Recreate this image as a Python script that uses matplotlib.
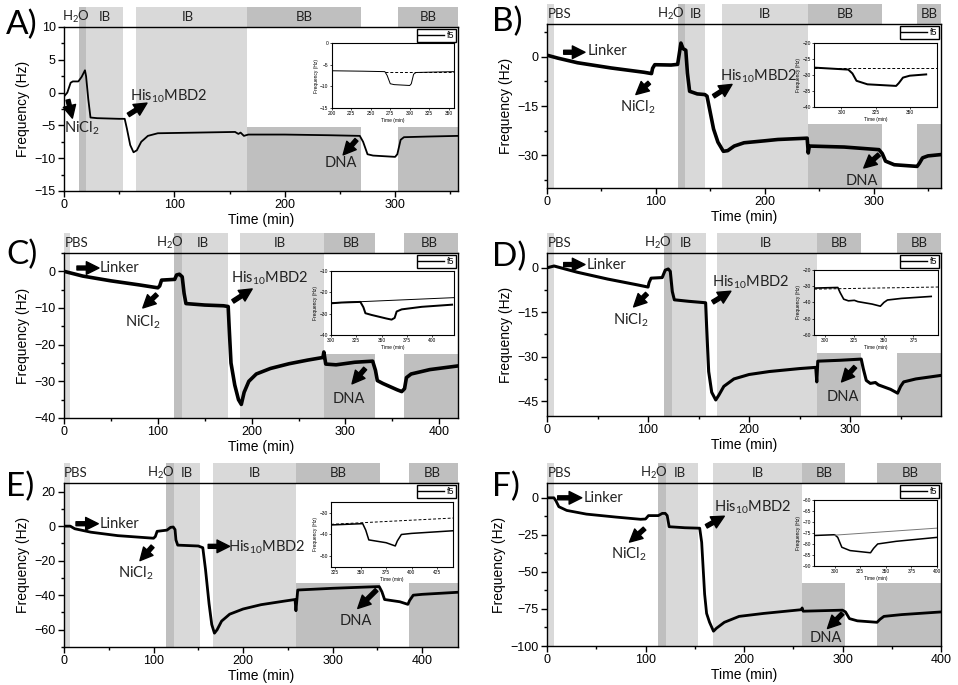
import matplotlib
matplotlib.use('Agg')
import matplotlib.pyplot as plt
from matplotlib.ticker import MultipleLocator, AutoMinorLocator
from matplotlib.patches import Rectangle
from matplotlib.lines import Line2D

plt.rcParams['font.family'] = ['Liberation Sans', 'DejaVu Sans']
plt.rcParams['mathtext.fontset'] = 'custom'
plt.rcParams['mathtext.rm'] = 'Lato'
plt.rcParams['mathtext.default'] = 'regular'

# ---- data: (time min, frequency Hz) ----
a_curve = [(0, -0.6), (3, 0), (6, 1.5), (8, 1.7), (13, 1.7), (16, 2.4), (19, 3.4), (20, 2.5),
           (22, -1), (24, -3.8), (30, -3.9), (50, -4), (55, -4), (57, -5.5), (60, -8), (63, -9.1),
           (66, -8.8), (70, -7.5), (76, -6.6), (85, -6.2), (120, -6.1), (155, -6.0), (158, -6.3),
           (160, -6.1), (163, -6.6), (167, -6.4), (200, -6.4), (240, -6.5), (268, -6.6), (271, -7.5),
           (275, -9.4), (280, -9.6), (300, -9.8), (302, -9.4), (305, -7.2), (308, -6.8), (330, -6.7),
           (357, -6.6)]
b_curve = [(0, 0.5), (10, -0.4), (28, -1.8), (59, -3.4), (89, -4.7), (96, -5.1), (97, -3.5), (99, -2.4),
           (114, -2.5), (120, -2.3), (122, 2), (123, 4.2), (125, 2.5), (127.5, 2), (129, -5), (131, -10.5),
           (138, -11.3), (145, -11.5), (147, -12), (150, -17), (153, -22), (157, -26), (162, -28.8),
           (166, -28.6), (172, -27.2), (181, -26.2), (200, -25.6), (212, -25.2), (239, -24.8), (240, -29.3),
           (241, -27.2), (273, -27.5), (305, -28.3), (308, -29.5), (311, -31.8), (319, -32.9), (340, -33.4),
           (342, -32.5), (345, -30.8), (350, -30.2), (362, -29.8)]
c_curve = [(0, 0), (20, -1.3), (50, -2.6), (80, -3.7), (100, -4.5), (102, -4), (104, -2.4), (118, -2.2),
           (120, -1), (123, -0.8), (126, -1.5), (128, -6), (130, -8.8), (150, -9.2), (170, -9.4), (175, -9.6),
           (176, -15), (178, -25), (182, -31), (186, -35), (189, -36.3), (192, -33), (197, -30), (205, -28),
           (220, -26.5), (240, -25.2), (260, -24.2), (276, -23.5), (277, -22), (279, -25.3), (290, -25.5),
           (310, -24.8), (329, -24.5), (332, -27), (334, -29.8), (340, -30.6), (355, -32.3), (360, -32.8),
           (363, -32), (365, -29), (370, -28), (390, -26.8), (420, -25.8)]
d_curve = [(0, 0), (7, 0.6), (30, -1.5), (60, -3.8), (90, -5.8), (100, -6.5), (101, -5), (103, -3.5),
           (114, -3.3), (117, -0.8), (120, -0.4), (122, -1.2), (124, -8), (126, -10.8), (140, -11.3),
           (157, -11.8), (158, -20), (160, -35), (163, -42), (167, -44.6), (170, -43), (175, -40),
           (185, -37.5), (200, -36), (220, -35), (250, -34), (266, -33.6), (267, -38.5), (268, -31.5),
           (290, -31.2), (311, -30.8), (313, -34), (316, -38), (320, -39), (325, -38.7), (328, -39.5),
           (340, -41), (347, -42.3), (350, -40), (353, -38.5), (365, -37.5), (390, -36.3)]
e_curve = [(0, 0), (7, 0), (12, -1.5), (30, -3.5), (60, -5.5), (100, -7), (102, -6), (104, -3),
           (115, -2.3), (119, -0.7), (122, -0.5), (124, -2), (125, -8), (127, -11), (150, -11.5),
           (155, -12.5), (158, -25), (162, -45), (165, -57), (168, -62), (171, -60), (176, -55),
           (185, -51), (200, -48), (220, -45.5), (245, -43.5), (258, -42.5), (259, -49), (261, -37),
           (300, -36), (352, -35), (355, -38), (358, -42.5), (375, -43.8), (384, -45.3), (386, -43),
           (390, -40), (400, -39.5), (440, -38.3)]
f_curve = [(0, 0), (7, 0), (9, -2), (12, -6), (20, -8.5), (40, -11), (70, -13), (95, -14.5),
           (100, -14.3), (103, -12), (113, -12), (117, -10.5), (120, -10.5), (122, -12), (124, -19.5),
           (140, -20.2), (155, -20.5), (157, -30), (160, -65), (162, -78), (165, -84), (169, -90),
           (172, -88), (180, -84), (195, -80), (220, -78), (258, -75.5), (259, -74.3), (260, -76.5),
           (300, -75.8), (303, -77), (307, -81.5), (315, -83), (335, -84), (338, -82), (342, -80),
           (360, -78.8), (400, -77)]

# baselines drawn in the insets
a_base = [(268, -6.6), (357, -6.6)]
b_base = [(280, -27.7), (370, -27.7)]
c_base = [(300, -25), (422, -22.5)]
d_base = [(291, -31.8), (396, -30.5)]
e_base = [(321, -35.3), (441, -32.4)]
f_base = [(300, -76), (400, -72.8)]

# buffer bands: (start, end, kind)
a_bands = [(13.3, 20.2, 'dark'), (20.2, 53.5, 'light'), (65, 166, 'light'), (166, 269.5, 'bb'), (302.7, 357, 'bb')]
b_bands = [(0, 6, 'light'), (120, 126.6, 'dark'), (126.6, 145.6, 'light'), (161, 240, 'light'), (240, 308, 'bb'), (340, 362, 'bb')]
c_bands = [(0, 6, 'light'), (117, 126, 'dark'), (126, 175, 'light'), (188, 277.6, 'light'), (277.6, 331, 'bb'), (362, 420, 'bb')]
d_bands = [(0, 6.6, 'light'), (115.4, 123.3, 'dark'), (123.3, 157.6, 'light'), (168, 267, 'light'), (267, 311, 'bb'), (346, 390, 'bb')]
e_bands = [(0, 6.7, 'light'), (113.8, 122.7, 'dark'), (122.7, 151.7, 'light'), (166.5, 259.5, 'light'), (259.5, 352.4, 'bb'), (385, 440, 'bb')]
f_bands = [(0, 6.8, 'light'), (113, 120.6, 'dark'), (120.6, 153.4, 'light'), (169, 259, 'light'), (259, 302, 'bb'), (335, 400, 'bb')]

# band labels: (x, text)
a_blabels = [(11.2, 'H$_2$O'), (36.9, 'IB'), (112.4, 'IB'), (217.5, 'BB'), (330, 'BB')]
b_blabels = [(11.3, 'PBS'), (113.8, 'H$_2$O'), (136.7, 'IB'), (200, 'IB'), (274.3, 'BB'), (350.8, 'BB')]
c_blabels = [(13.1, 'PBS'), (112.5, 'H$_2$O'), (148, 'IB'), (229.7, 'IB'), (306, 'BB'), (389.4, 'BB')]
d_blabels = [(12.2, 'PBS'), (109.5, 'H$_2$O'), (137.5, 'IB'), (216.6, 'IB'), (289.2, 'BB'), (368, 'BB')]
e_blabels = [(13.4, 'PBS'), (107.8, 'H$_2$O'), (136.8, 'IB'), (213, 'IB'), (306, 'BB'), (411, 'BB')]
f_blabels = [(12.5, 'PBS'), (108.5, 'H$_2$O'), (134.6, 'IB'), (214, 'IB'), (281, 'BB'), (368.5, 'BB')]

# annotations: (text, text x, text y, arrow tail x, tail y, head x, head y)
a_notes = [('NiCl$_2$', 15.7, -5.4, 3.6, -1.1, 7.6, -3.9),
           ('His$_{10}$MBD2', 94.6, -0.6, 58.3, -3.4, 75.2, -1.6),
           ('DNA', 250.8, -10.8, 265, -7.2, 252.9, -9.5)]
b_notes = [('Linker', 55.7, 1.7, 15.3, 1.4, 34.9, 1.4),
           ('NiCl$_2$', 83, -15.3, 93.9, -7.9, 81.6, -11.5),
           ('His$_{10}$MBD2', 194, -5.9, 153, -12, 170, -8.4),
           ('DNA', 289.6, -37.9, 305, -29.8, 291, -33.9)]
c_notes = [('Linker', 59.3, 0.9, 13.8, 0.9, 37.3, 0.9),
           ('NiCl$_2$', 83.4, -14, 99, -6.3, 84, -10),
           ('His$_{10}$MBD2', 219, -1.9, 180, -8.2, 200.6, -4.8),
           ('DNA', 304, -34.9, 321, -26.5, 307, -30.7)]
d_notes = [('Linker', 58.4, 1.1, 16.5, 1.1, 37.6, 1.1),
           ('NiCl$_2$', 83, -17.7, 98.9, -8.75, 85.7, -13.2),
           ('His$_{10}$MBD2', 201.8, -4.8, 164, -11.6, 182, -7.9),
           ('DNA', 292.5, -43.5, 305, -33.4, 291.5, -38.5)]
e_notes = [('Linker', 61.7, 1.4, 13.4, 1.4, 38.3, 1.4),
           ('NiCl$_2$', 80, -27.2, 98.9, -11.7, 84.8, -20),
           ('His$_{10}$MBD2', 226, -12.3, 161, -11.7, 185, -11.7),
           ('DNA', 326, -55, 349, -37, 328, -47.7)]
f_notes = [('Linker', 57, 0, 10.8, 0, 35.3, 0),
           ('NiCl$_2$', 82.7, -38, 99, -20.8, 83.7, -29.9),
           ('His$_{10}$MBD2', 209, -6.3, 161.7, -19.2, 180, -12.4),
           ('DNA', 283, -94.6, 300, -78, 284.7, -88.2)]

LIGHT = '#d9d9d9'
DARK = '#bfbfbf'

fig = plt.figure(figsize=(9.58, 6.85), dpi=100)


def panel(rect, letter, letter_xy, curve, bands, bb_top, blabels, notes,
          xlim, xstep, ylim, ystep, lw,
          irect, ixlim, ixstep, iylim, iystep, base, base_style):
    ax = fig.add_axes(rect)
    ax.set_xlim(*xlim)
    ax.set_ylim(*ylim)
    tr = ax.get_xaxis_transform()
    for x0, x1, kind in bands:
        col = LIGHT if kind == 'light' else DARK
        ax.add_patch(Rectangle((x0, 1.0), x1 - x0, 0.12, transform=tr, facecolor=col,
                               lw=0, clip_on=False, zorder=0))
        if kind == 'bb':
            ax.fill_between([x0, x1], ylim[0], bb_top, color=col, lw=0, zorder=0)
        else:
            ax.axvspan(x0, x1, color=col, lw=0, zorder=0)
    for x, s in blabels:
        ax.text(x, 1.06, s, transform=tr, ha='center', va='center', fontsize=9.5,
                family='Lato', color='#222222')

    t = [p[0] for p in curve]
    f = [p[1] for p in curve]
    ax.plot(t, f, color='black', lw=lw, zorder=3, solid_joinstyle='round')

    for s, tx, ty, x0, y0, x1, y1 in notes:
        ax.text(tx, ty, s, ha='center', va='center', fontsize=10.5, family='Lato', color='#222222', zorder=4)
        ax.annotate('', xy=(x1, y1), xytext=(x0, y0),
                    arrowprops=dict(arrowstyle='simple,head_length=0.7,head_width=0.7,tail_width=0.22',
                                    fc='black', ec='black', mutation_scale=13, shrinkA=0, shrinkB=0),
                    zorder=4)

    ax.xaxis.set_major_locator(MultipleLocator(xstep))
    ax.yaxis.set_major_locator(MultipleLocator(ystep))
    ax.xaxis.set_minor_locator(AutoMinorLocator(2))
    ax.yaxis.set_minor_locator(AutoMinorLocator(2))
    ax.tick_params(which='both', direction='out', top=False, right=False, width=1)
    ax.tick_params(which='major', length=4, labelsize=9, pad=2)
    ax.tick_params(which='minor', length=2)
    for sp in ax.spines.values():
        sp.set_linewidth(1.0)
        sp.set_zorder(5)
    ax.set_xlabel('Time (min)', fontsize=10, labelpad=1)
    ax.set_ylabel('Frequency (Hz)', fontsize=10, labelpad=3)

    ax.legend(handles=[Line2D([], [], color='black', lw=1)], labels=['f5'], loc='upper right',
              fontsize=6.5, frameon=True, fancybox=False, edgecolor='black', framealpha=1,
              borderpad=0.2, handlelength=2.8, handletextpad=0.3, borderaxespad=0.25)

    fig.text(letter_xy[0] / 958, 1 - letter_xy[1] / 685, letter, fontsize=24, family='Lato',
             ha='left', va='top')

    iax = ax.inset_axes(irect)
    iax.plot(t, f, color='black', lw=lw * 0.55)
    bx = [p[0] for p in base]
    by = [p[1] for p in base]
    if base_style == 'dashed':
        iax.plot(bx, by, color='black', lw=0.7, ls=(0, (3, 2)))
    elif base_style == 'gray':
        iax.plot(bx, by, color='#777777', lw=0.7)
    else:
        iax.plot(bx, by, color='black', lw=0.7)
    iax.set_xlim(*ixlim)
    iax.set_ylim(*iylim)
    iax.xaxis.set_major_locator(MultipleLocator(ixstep))
    iax.yaxis.set_major_locator(MultipleLocator(iystep))
    iax.tick_params(labelsize=3.5, length=1.5, width=0.5, pad=1)
    for sp in iax.spines.values():
        sp.set_linewidth(0.8)
    iax.set_xlabel('Time (min)', fontsize=3.5, labelpad=1)
    iax.set_ylabel('Frequency (Hz)', fontsize=3.5, labelpad=1)
    return ax


panel([0.0668, 0.7212, 0.4113, 0.2394], 'A)', (6, 10), a_curve, a_bands, -5.3, a_blabels, a_notes,
      (0, 357), 100, (-15, 10), 5, 1.3,
      [0.680, 0.506, 0.310, 0.396], (200, 357), 25, (-15, 0), 5, a_base, 'dashed')
panel([0.571, 0.7255, 0.4113, 0.2394], 'B)', (492, 7), b_curve, b_bands, -20.4, b_blabels, b_notes,
      (0, 362), 100, (-40, 10), 15, 2.6,
      [0.678, 0.494, 0.312, 0.390], (280, 370), 25, (-40, -20), 5, b_base, 'dashed')
panel([0.0668, 0.3898, 0.4113, 0.2409], 'C)', (6, 240), c_curve, c_bands, -22.6, c_blabels, c_notes,
      (0, 420), 100, (-40, 5), 10, 2.6,
      [0.678, 0.503, 0.312, 0.388], (300, 422), 25, (-40, -10), 10, c_base, 'solid')
panel([0.571, 0.3927, 0.4113, 0.2380], 'D)', (492, 242), d_curve, d_bands, -28.7, d_blabels, d_notes,
      (0, 390), 100, (-50, 5), 15, 2.2,
      [0.678, 0.497, 0.315, 0.399], (291, 396), 25, (-60, -20), 10, d_base, 'dashed')
panel([0.0668, 0.0555, 0.4113, 0.2394], 'E)', (6, 472), e_curve, e_bands, -33, e_blabels, e_notes,
      (0, 440), 100, (-70, 25), 20, 2.0,
      [0.678, 0.488, 0.310, 0.396], (321, 441), 25, (-55, -25), 10, e_base, 'dashed')
panel([0.571, 0.0569, 0.4113, 0.2380], 'F)', (492, 472), f_curve, f_bands, -57.2, f_blabels, f_notes,
      (0, 400), 100, (-100, 10), 25, 2.0,
      [0.678, 0.491, 0.312, 0.405], (280, 400), 25, (-90, -60), 5, f_base, 'gray')

fig.savefig('out.png', dpi=100)
